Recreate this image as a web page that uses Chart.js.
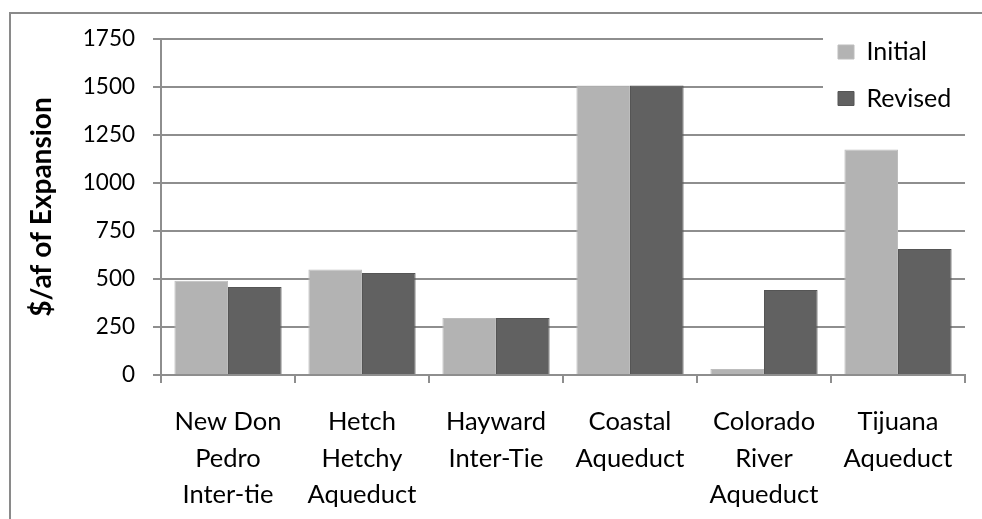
<!DOCTYPE html>
<html>
<head>
<meta charset="utf-8">
<script src="https://cdn.jsdelivr.net/npm/chart.js@4/dist/chart.umd.min.js"></script>
<style>
  html, body { margin: 0; padding: 0; background: #fff; overflow: hidden; }
  #wrap { position: relative; width: 982px; height: 519px; }
  #frame { position: absolute; left: 9px; top: 12px; width: 1000px; height: 600px;
           border-left: 2px solid #8a8a8a; border-top: 2px solid #8a8a8a; box-sizing: border-box; }
  #c { position: absolute; left: 0; top: 0; }
</style>
</head>
<body>
<div id="wrap">
  <div id="frame"></div>
  <canvas id="c" width="982" height="519"></canvas>
</div>
<script>
// Conveyance links (multi-line category labels)
const categories = [
  ['New Don', 'Pedro', 'Inter-tie'],
  ['Hetch', 'Hetchy', 'Aqueduct'],
  ['Hayward', 'Inter-Tie'],
  ['Coastal', 'Aqueduct'],
  ['Colorado', 'River', 'Aqueduct'],
  ['Tijuana', 'Aqueduct']
];
const seriesNames = ['Initial', 'Revised'];
const initialValues = [491, 550, 297, 1508, 31, 1175];
const revisedValues = [458, 531, 297, 1508, 443, 656];
const yTicks = [0, 250, 500, 750, 1000, 1250, 1500, 1750];
const yTitle = '$/af of Expansion';

const FONT = 'Lato, "Open Sans", "DejaVu Sans", sans-serif';
const GRID = '#8e8e8e';

// Places the legend in the upper right of the plot and clears the grid behind it
const legendPlacer = {
  id: 'legendPlacer',
  afterLayout(chart) {
    const lg = chart.legend;
    if (!lg) return;
    const pad = lg.options.labels.padding;
    lg.left = 838 - pad;
    lg.top = 39.5 - pad;
    lg.right = 982;
    lg.bottom = 519;
    lg.width = lg.right - lg.left;
    lg.height = lg.bottom - lg.top;
    if (!lg._bgWrapped) {
      const baseDraw = lg.draw;
      lg.draw = function (...args) {
        const ctx = this.ctx;
        ctx.save();
        ctx.fillStyle = '#ffffff';
        ctx.fillRect(823, 26, 159, 90);
        ctx.restore();
        return baseDraw.apply(this, args);
      };
      lg._bgWrapped = true;
    }
  }
};

new Chart(document.getElementById('c'), {
  type: 'bar',
  data: {
    labels: categories,
    datasets: [
      {
        label: seriesNames[0],
        data: initialValues,
        backgroundColor: '#b3b3b3',
        borderColor: '#bdbdbd',
        borderWidth: 1
      },
      {
        label: seriesNames[1],
        data: revisedValues,
        backgroundColor: '#616161',
        borderColor: '#555555',
        borderWidth: 1
      }
    ]
  },
  options: {
    responsive: false,
    animation: false,
    devicePixelRatio: 1,
    layout: { padding: { left: 0, top: 39, right: 17, bottom: 0 } },
    datasets: { bar: { categoryPercentage: 0.8, barPercentage: 1.0 } },
    plugins: {
      title: { display: false },
      tooltip: { enabled: false },
      legend: {
        position: 'chartArea',
        align: 'start',
        labels: {
          boxWidth: 16,
          boxHeight: 14,
          padding: 21.5,
          color: '#000',
          font: { family: FONT, size: 25 }
        }
      }
    },
    scales: {
      x: {
        offset: true,
        grid: {
          offset: true,
          drawOnChartArea: false,
          drawTicks: true,
          tickLength: 8,
          color: GRID,
          lineWidth: 2
        },
        border: { display: true, color: GRID, width: 2 },
        ticks: {
          color: '#000',
          padding: 21,
          maxRotation: 0,
          autoSkip: false,
          font: { family: FONT, size: 25.5, lineHeight: 1.42 }
        },
        afterFit(scale) { scale.height = 519 - 375; }
      },
      y: {
        min: 0,
        max: 1750,
        afterBuildTicks(scale) { scale.ticks = yTicks.map(v => ({ value: v })); },
        grid: {
          drawTicks: true,
          tickLength: 8,
          color: GRID,
          lineWidth: 2
        },
        border: { display: true, color: GRID, width: 2 },
        ticks: {
          color: '#000',
          padding: 18,
          font: { family: FONT, size: 22.5 },
          callback: (v) => String(v)
        },
        title: {
          display: true,
          text: yTitle,
          color: '#000',
          padding: { top: 25, bottom: 0 },
          font: { family: FONT, size: 28, weight: 'bold', lineHeight: 1.2 }
        },
        afterFit(scale) { scale.width = 161; }
      }
    }
  },
  plugins: [legendPlacer]
});
</script>
</body>
</html>
